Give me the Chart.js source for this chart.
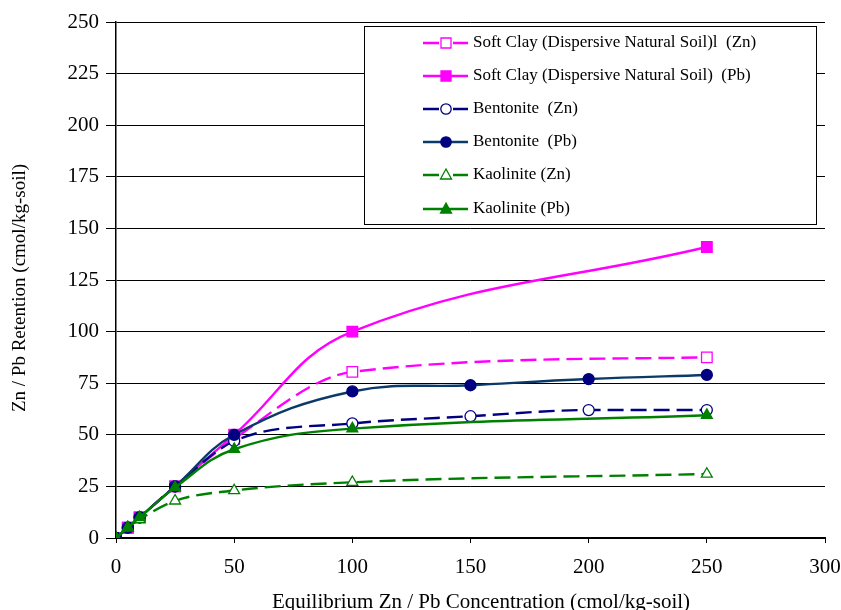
<!DOCTYPE html>
<html>
<head>
<meta charset="utf-8">
<script src="https://cdn.jsdelivr.net/npm/chart.js@4.4.1/dist/chart.umd.min.js"></script>
<style>
html,body{margin:0;padding:0;background:#fff;}
#wrap{width:841px;height:610px;position:relative;}
</style>
</head>
<body>
<div id="wrap"><canvas id="c" width="841" height="610"></canvas></div>
<script>
// ---- data ----
const xTitle = "Equilibrium Zn / Pb Concentration (cmol/kg-soil)";
const yTitle = "Zn / Pb Retention (cmol/kg-soil)";
const seriesNames = [
  "Soft Clay (Dispersive Natural Soil)l  (Zn)",
  "Soft Clay (Dispersive Natural Soil)  (Pb)",
  "Bentonite  (Zn)",
  "Bentonite  (Pb)",
  "Kaolinite (Zn)",
  "Kaolinite (Pb)"
];
const softClayZnX = [0, 5, 10, 25, 50, 100, 250];
const softClayZnY = [0, 5, 10, 25, 48, 80.5, 87.5];
const softClayPbX = [0, 5, 10, 25, 50, 100, 250];
const softClayPbY = [0, 5, 10, 25, 50, 100, 141];
const bentoniteZnX = [0, 5, 10, 25, 50, 100, 150, 200, 250];
const bentoniteZnY = [0, 5, 10, 25, 47, 55.5, 59, 62, 62];
const bentonitePbX = [0, 5, 10, 25, 50, 100, 150, 200, 250];
const bentonitePbY = [0, 5, 10, 25, 50, 71, 74, 77, 79];
const kaoliniteZnX = [0, 5, 10, 25, 50, 100, 250];
const kaoliniteZnY = [0, 5, 9, 18, 23, 27, 31];
const kaolinitePbX = [0, 5, 10, 25, 50, 100, 250];
const kaolinitePbY = [0, 5, 10, 24.5, 43, 53, 59.5];
const xTicks = [0, 50, 100, 150, 200, 250, 300];
const yTicks = [0, 25, 50, 75, 100, 125, 150, 175, 200, 225, 250];

function pts(xs, ys){ return xs.map((x,i)=>({x:x, y:ys[i]})); }

const MAG = '#FF00FF', NAVY = '#000080', BPB = '#0A3A6A', GRN = '#008000';
const FONT = "'Liberation Serif', 'Times New Roman', serif";
const RADIUS = { rect: 7.5, circle: 5.5, triangle: 6.3 };

function ds(label, xs, ys, lineColor, markerColor, style, filled, dashed, mono){
  return {
    label: label,
    data: pts(xs, ys),
    borderColor: lineColor,
    backgroundColor: filled ? markerColor : '#FFFFFF',
    pointBorderColor: markerColor,
    pointBackgroundColor: filled ? markerColor : '#FFFFFF',
    pointStyle: style,
    pointRadius: RADIUS[style],
    pointBorderWidth: 1.3,
    borderWidth: 2.4,
    borderDash: dashed ? [16, 7] : [],
    tension: 0.4,
    cubicInterpolationMode: mono ? 'monotone' : 'default',
    fill: false
  };
}

const datasets = [
  ds(seriesNames[5], kaolinitePbX, kaolinitePbY, GRN, GRN, 'triangle', true, false, false),
  ds(seriesNames[4], kaoliniteZnX, kaoliniteZnY, GRN, GRN, 'triangle', false, true, true),
  ds(seriesNames[3], bentonitePbX, bentonitePbY, BPB, NAVY, 'circle', true, false, false),
  ds(seriesNames[2], bentoniteZnX, bentoniteZnY, NAVY, NAVY, 'circle', false, true, true),
  ds(seriesNames[1], softClayPbX, softClayPbY, MAG, MAG, 'rect', true, false, false),
  ds(seriesNames[0], softClayZnX, softClayZnY, MAG, MAG, 'rect', false, true, true)
];
const legendOrder = [5, 4, 3, 2, 1, 0];

function drawMarker(ctx, style, x, y, fill, stroke){
  ctx.save();
  ctx.fillStyle = fill; ctx.strokeStyle = stroke; ctx.lineWidth = 1.3;
  ctx.setLineDash([]);
  ctx.beginPath();
  if (style === 'rect') { ctx.rect(x-5, y-5, 10, 10); }
  else if (style === 'circle') { ctx.arc(x, y, 5.2, 0, Math.PI*2); }
  else { ctx.moveTo(x, y-6); ctx.lineTo(x+5.5, y+4); ctx.lineTo(x-5.5, y+4); ctx.closePath(); }
  ctx.fill(); ctx.stroke();
  ctx.restore();
}

const legendPlugin = {
  id: 'boxLegend',
  afterDraw(chart){
    const ctx = chart.ctx;
    const bx = 364.5, by = 26.5, bw = 452, bh = 198;
    ctx.save();
    ctx.fillStyle = '#fff';
    ctx.fillRect(bx, by, bw, bh);
    ctx.strokeStyle = '#000';
    ctx.lineWidth = 1;
    ctx.strokeRect(bx, by, bw, bh);
    const rowsY = [43, 76, 109, 142, 175, 209];
    legendOrder.forEach((di, r) => {
      const d = chart.data.datasets[di];
      const y = rowsY[r];
      ctx.strokeStyle = d.borderColor;
      ctx.lineWidth = 2.5;
      ctx.setLineDash([]);
      ctx.beginPath();
      if (d.borderDash.length) {
        ctx.moveTo(423, y); ctx.lineTo(439, y);
        ctx.moveTo(453, y); ctx.lineTo(468, y);
      } else {
        ctx.moveTo(423, y); ctx.lineTo(468, y);
      }
      ctx.stroke();
      drawMarker(ctx, d.pointStyle, 446, y, d.pointBackgroundColor, d.pointBorderColor);
      ctx.fillStyle = '#000';
      ctx.font = "17px " + FONT;
      ctx.textBaseline = 'middle';
      ctx.textAlign = 'left';
      ctx.fillText(d.label, 473, y);
    });
    // axis titles
    ctx.fillStyle = '#000';
    ctx.textAlign = 'center';
    ctx.textBaseline = 'middle';
    ctx.font = "21px " + FONT;
    ctx.fillText(xTitle, 481, 602);
    ctx.translate(20, 288);
    ctx.rotate(-Math.PI/2);
    ctx.font = "19px " + FONT;
    ctx.fillText(yTitle, 0, 0);
    ctx.restore();
  }
};

new Chart(document.getElementById('c'), {
  type: 'line',
  data: { datasets: datasets },
  options: {
    responsive: false,
    animation: false,
    devicePixelRatio: 1,
    layout: { padding: { top: 22, right: 16, left: 0, bottom: 0 } },
    plugins: { legend: { display: false }, tooltip: { enabled: false } },
    scales: {
      x: {
        type: 'linear', min: 0, max: 300,
        afterBuildTicks(s){ s.ticks = xTicks.map(v=>({value:v})); },
        afterFit(s){ s.height = 72; s.paddingLeft = 0; s.paddingRight = 0; },
        border: { display: true, color: '#000', width: 2 },
        grid: { drawOnChartArea: false, drawTicks: true, tickLength: 5, color: '#000' },
        ticks: { color: '#000', font: { family: FONT, size: 21 }, padding: 12, maxRotation: 0 }
      },
      y: {
        type: 'linear', min: 0, max: 250,
        afterBuildTicks(s){ s.ticks = yTicks.map(v=>({value:v})); },
        afterFit(s){ s.width = 116; s.paddingTop = 0; s.paddingBottom = 0; },
        border: { display: true, color: '#000', width: 1.5 },
        grid: { drawOnChartArea: true, drawTicks: true, tickLength: 10, color: '#000', lineWidth: 1 },
        ticks: { color: '#000', font: { family: FONT, size: 21 }, padding: 7 }
      }
    }
  },
  plugins: [legendPlugin]
});
</script>
</body>
</html>
